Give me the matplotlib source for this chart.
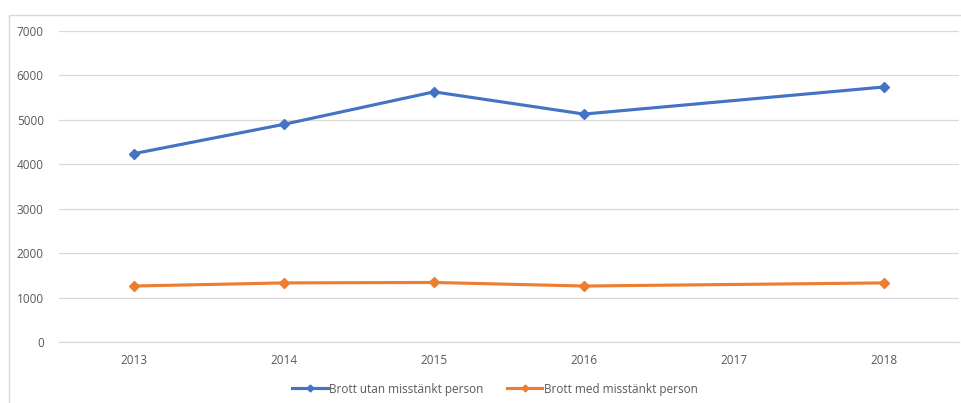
import numpy as np
import matplotlib.pyplot as plt
from matplotlib.patches import Rectangle
from matplotlib.lines import Line2D

# Data (2017 is missing in both series; Excel connects across the gap)
years = ["2013", "2014", "2015", "2016", "2017", "2018"]
utan_misstankt = [4240, 4900, 5630, 5130, np.nan, 5740]
med_misstankt = [1260, 1330, 1340, 1260, np.nan, 1330]
labels = ["Brott utan misstänkt person", "Brott med misstänkt person"]
colors = ["#4472C4", "#ED7D31"]

plt.rcParams["font.family"] = ["Open Sans", "DejaVu Sans"]

fig = plt.figure(figsize=(9.61, 4.03), dpi=100)
ax = fig.add_axes([59 / 961, 61 / 403, 900 / 961, 311 / 403])

# light chart border
fig.patches.append(Rectangle((9 / 961, -0.1), 1.0, (403 - 15) / 403 + 0.1,
                             transform=fig.transFigure, fill=False,
                             edgecolor="#D9D9D9", linewidth=1))

x = np.arange(len(years))
for vals, col, lab in zip([utan_misstankt, med_misstankt], colors, labels):
    v = np.array(vals, dtype=float)
    ok = ~np.isnan(v)
    ax.plot(x[ok], v[ok], color=col, linewidth=2.25, marker="D",
            markersize=5, label=lab, solid_capstyle="round", zorder=3)

ax.set_xlim(-0.5, len(years) - 0.5)
ax.set_ylim(0, 7000)
ax.set_yticks(range(0, 7001, 1000))
ax.set_xticks(x)
ax.set_xticklabels(years)
ax.grid(axis="y", color="#D9D9D9", linewidth=0.9)
ax.axhline(0, color="#D9D9D9", linewidth=0.9, clip_on=False, zorder=1)
ax.set_axisbelow(True)
for s in ax.spines.values():
    s.set_visible(False)
ax.tick_params(axis="both", length=0, labelsize=8.5, labelcolor="#595959")
ax.tick_params(axis="y", pad=11)
ax.tick_params(axis="x", pad=9)

handles = [Line2D([], [], color=c, linewidth=2.25, marker="D", markersize=3.5)
           for c in colors]
fig.legend(handles, labels, loc="center", bbox_to_anchor=(495 / 961, 1 - 389 / 403),
           ncol=2, frameon=False, fontsize=8.5, labelcolor="#595959",
           handlelength=3.0, handletextpad=0.1, columnspacing=2.0)

fig.savefig("out.png", dpi=100)
